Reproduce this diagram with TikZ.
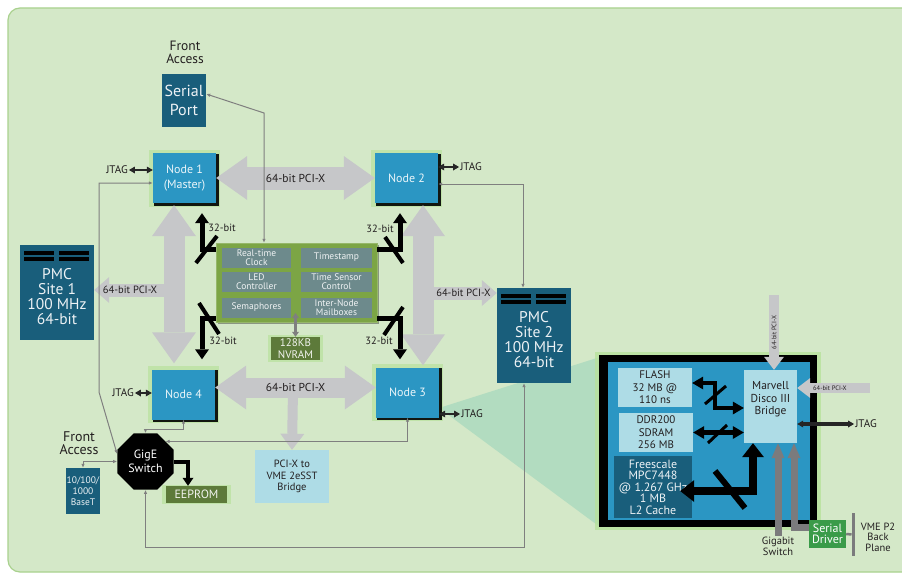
\documentclass[tikz,border=0pt]{standalone}
\usepackage{fontspec}
\setmainfont{PT Sans}
\usetikzlibrary{arrows.meta,shapes.geometric,shadows}

\definecolor{bggreen}{HTML}{D4E8C8}
\definecolor{bgedge}{HTML}{A9D18E}
\definecolor{nodeblue}{HTML}{2B96C3}
\definecolor{pmcteal}{HTML}{195E7B}
\definecolor{pcigray}{HTML}{C6C7C9}
\definecolor{wiregray}{HTML}{7F7F7F}
\definecolor{blkgreen}{HTML}{7CA545}
\definecolor{regslate}{HTML}{6D8A8C}
\definecolor{nvolive}{HTML}{5D7A3A}
\definecolor{bridgeblue}{HTML}{AEDCE6}
\definecolor{drvgreen}{HTML}{3A9B49}
\definecolor{zoommint}{HTML}{B2DCC0}
\definecolor{glowgreen}{HTML}{B8E29C}
\definecolor{inkgray}{HTML}{231F20}
\definecolor{upgray}{HTML}{7B7B7D}

\newcommand{\fsz}[2]{\fontsize{#1}{#2}\selectfont}

\tikzset{
  glow/.style={general shadow={fill=glowgreen, shadow scale=1.14, opacity=.7}},
  glowshadow/.style={glow, general shadow={fill=black, opacity=.9, shadow scale=1.04, shadow xshift=1.8pt, shadow yshift=-1.8pt}},
  nodebox/.style={fill=nodeblue, text=white!90!nodeblue, minimum width=63pt, minimum height=50pt,
                  inner sep=0pt, align=center, font=\fsz{12}{15}, glowshadow},
  tealbox/.style={fill=pmcteal, text=white!92!pmcteal, inner sep=0pt, align=center},
  regbox/.style={fill=regslate, text=white!90!regslate, minimum height=20pt, inner sep=0pt,
                 align=center, font=\fsz{9.5}{9}},
  olivebox/.style={fill=nvolive, text=white!92!nvolive, inner sep=0pt, align=center, glow},
  lightbox/.style={fill=bridgeblue, text=inkgray, inner sep=0pt, align=center},
  lbl/.style={text=inkgray, inner sep=1pt, align=center},
  bigpci/.style={draw=pcigray, line width=#1,
    {Triangle[length=31pt,width=44pt,line width=0pt]}-{Triangle[length=31pt,width=44pt,line width=0pt]}},
  smallpci/.style={draw=pcigray, line width=13pt, -{Triangle[length=15pt,width=26pt,line width=0pt]}},
  bus/.style={draw=black, line width=5pt, line join=miter, -{Triangle[length=10pt,width=14pt,line width=0pt]}},
  busslash/.style={draw=black, line width=4pt},
  jtagline/.style={draw=black!85, line width=2.2pt,
    {Triangle[length=6pt,width=7pt,line width=0pt]}-{Triangle[length=6pt,width=7pt,line width=0pt]}},
  wire/.style={draw=wiregray, line width=1pt, {Latex[length=4pt,width=3.5pt]}-{Latex[length=4pt,width=3.5pt]}},
  ibus/.style={draw=black, line width=4.5pt, line join=miter,
    {Triangle[length=11pt,width=13pt,line width=0pt]}-{Triangle[length=11pt,width=13pt,line width=0pt]}},
  cpubus/.style={draw=black, line width=8pt, line join=miter,
    {Triangle[length=14pt,width=22pt,line width=0pt]}-{Triangle[length=14pt,width=22pt,line width=0pt]}},
  uparrow/.style={draw=upgray, line width=7pt, line join=miter, -{Triangle[length=15pt,width=13pt,line width=0pt]}},
}

\begin{document}
\begin{tikzpicture}[x=1pt,y=-1pt]
\useasboundingbox (0,0) rectangle (902,575);
\fill[white] (0,0) rectangle (902,575);
\draw[bgedge, fill=bggreen, line width=1.2pt, rounded corners=12pt] (8,8) rectangle (918,572);
% zoom wedge towards the inset
\fill[zoommint] (439,408) -- (600,357) -- (600,527) -- cycle;

% main board
\node[lbl, font=\fsz{13.5}{13}] (fa1) at (185,52) {Front\\Access};
\node[tealbox, minimum width=44pt, minimum height=53pt, font=\fsz{16}{19}] (sp) at (184,100.5) {Serial\\Port};
\node[nodebox] (n1) at (184.5,178) {Node 1\\(Master)};
\node[nodebox] (n2) at (406.5,178) {Node 2};
\node[nodebox] (n4) at (183.5,394.5) {Node 4};
\node[nodebox] (n3) at (407.5,392.5) {Node 3};

\node[fill=blkgreen, draw=blkgreen!80!white, minimum width=161pt, minimum height=79pt, inner sep=0pt,
      general shadow={fill=black, opacity=.35, shadow xshift=2pt, shadow yshift=-2pt}] (blk) at (296.5,282.5) {};
\node[regbox, minimum width=69pt] (rtc) at (256.5,257.5) {Real-time\\Clock};
\node[regbox, minimum width=71pt] (tstamp) at (336.5,257.5) {Timestamp};
\node[regbox, minimum width=69pt] (led) at (256.5,282) {LED\\Controller};
\node[regbox, minimum width=71pt] (tsc) at (336.5,282) {Time Sensor\\Control};
\node[regbox, minimum width=69pt] (sema) at (256.5,307.5) {Semaphores};
\node[regbox, minimum width=71pt] (mbox) at (336.5,307.5) {Inter-Node\\Mailboxes};
\node[olivebox, minimum width=49pt, minimum height=23pt, font=\fsz{11}{11.5}] (nv) at (295.5,348.5) {128KB\\NVRAM};

\node[tealbox, minimum width=74pt, minimum height=95pt] (pmc1) at (57,292.5) {};
\node[text=white!92!pmcteal, align=center, font=\fsz{15.5}{15}] (pmc1txt) at (57,297) {PMC\\Site 1\\100 MHz\\64-bit};
\node[tealbox, minimum width=74pt, minimum height=95pt] (pmc2) at (534,335.5) {};
\node[text=white!92!pmcteal, align=center, font=\fsz{15.5}{15}] (pmc2txt) at (534,340) {PMC\\Site 2\\100 MHz\\64-bit};
\foreach \dy in {6,12.5} {
  \fill[black] ([shift={(4.3,\dy)}]pmc1.north west) rectangle +(29.5,3.7);
  \fill[black] ([shift={(39.3,\dy)}]pmc1.north west) rectangle +(29.5,3.7);
  \fill[black] ([shift={(4.3,\dy)}]pmc2.north west) rectangle +(29.5,3.7);
  \fill[black] ([shift={(39.3,\dy)}]pmc2.north west) rectangle +(29.5,3.7);
}

\node[lightbox, minimum width=74pt, minimum height=53pt, font=\fsz{10.5}{11.5}] (vme) at (292,476.5) {PCI-X to\\VME 2eSST\\Bridge};
\node[regular polygon, regular polygon sides=8, fill=black, minimum size=61pt, inner sep=0pt,
      text=white, align=center, font=\fsz{12}{14}] (gige) at (145.5,461.5) {GigE\\Switch};
\node[olivebox, minimum width=61pt, minimum height=17pt, font=\fsz{12}{12}] (eep) at (196.5,494.5) {EEPROM};
\node[tealbox, minimum width=34pt, minimum height=46pt, font=\fsz{9.5}{11}] (base) at (83,491) {10/100/\\1000\\BaseT};
\node[lbl, font=\fsz{14}{13.5}] (fa2) at (79,443) {Front\\Access};

\node[lbl, font=\fsz{11}{12}] (j1) at (117,170) {JTAG};
\node[lbl, font=\fsz{11}{12}] (j2) at (471,167) {JTAG};
\node[lbl, font=\fsz{11}{12}] (j4) at (123,393) {JTAG};
\node[lbl, font=\fsz{11}{12}] (j3) at (472,414) {JTAG};

% inset: processor node
\node[fill=black, minimum width=218pt, minimum height=172pt, inner sep=0pt,
      general shadow={fill=glowgreen, shadow scale=1.04, opacity=.8}] (inset) at (708,441) {};
\node[fill=nodeblue, minimum width=202pt, minimum height=158pt, inner sep=0pt] (insetin) at (709,441) {};
\node[lightbox, minimum width=74pt, minimum height=39pt, font=\fsz{11}{12.5}] (flash) at (655,387.5) {FLASH\\32 MB @\\110 ns};
\node[lightbox, minimum width=74pt, minimum height=39pt, font=\fsz{11}{12.5}] (ddr) at (656,432.5) {DDR200\\SDRAM\\256 MB};
\node[tealbox, minimum width=78pt, minimum height=62pt, font=\fsz{12}{11.5}] (cpu) at (653,487) {Freescale\\MPC7448\\@ 1.267 GHz\\1 MB\\L2 Cache};
\node[lightbox, minimum width=53pt, minimum height=73pt] (mvl) at (770.5,406.5) {};
\node[lbl, font=\fsz{11.5}{12.5}] (mvltxt) at (770.5,399.5) {Marvell\\Disco III\\Bridge};
\node[fill=drvgreen, text=white, minimum width=37pt, minimum height=28pt, inner sep=0pt, align=center,
      font=\fsz{12}{11}] (sdrv) at (827.5,534) {Serial\\Driver};
\node[fill=upgray, minimum width=3.5pt, minimum height=43pt, inner sep=0pt] (bp) at (853.5,534.5) {};
\node[lbl, font=\fsz{10.5}{10.5}] (bptxt) at (878,537) {VME P2\\Back\\Plane};
\node[lbl, font=\fsz{10.5}{11}] (gsw) at (778,546) {Gigabit\\Switch};
\node[lbl, font=\fsz{11}{12}] (jm) at (866,424) {JTAG};
\coordinate (pcitop) at (774,295);
\coordinate (pciright) at (870,388);

% PCI-X buses
\coordinate (vmebr) at (293,390);
\draw[draw=pcigray, line width=10pt, -{Triangle[length=16pt,width=24pt,line width=0pt]}] (vmebr) -- (vme.north);
\coordinate (lbr) at (166,290);
\draw[smallpci] (lbr) -- (lbr -| pmc1.east) node[midway, text=inkgray, font=\fsz{10.5}{11}] (pcil1) {64-bit PCI-X};
\coordinate (rbr) at (430,293);
\draw[smallpci] (rbr) -- (rbr -| pmc2.west) node[midway, text=inkgray, font=\fsz{10.5}{11}] (pcil2) {64-bit PCI-X};
\draw[bigpci=23pt] (n1.east) -- (n2.west) node[midway, text=inkgray, font=\fsz{11.5}{12}] (pcit) {64-bit PCI-X};
\draw[bigpci=20pt] ([yshift=7pt]n4.east) -- ([yshift=5pt]n3.west) node[midway, text=inkgray, font=\fsz{11.5}{12}] (pcib) {64-bit PCI-X};
\draw[bigpci=21pt] ([xshift=-10.5pt,yshift=-2pt]n1.south) -- ([xshift=-9.5pt,yshift=6pt]n4.north);
\draw[bigpci=21pt] ([xshift=16.5pt,yshift=-2pt]n2.south) -- ([xshift=15.5pt,yshift=2pt]n3.north);

% 32-bit local buses
\draw[bus] ([yshift=-7pt]blk.north west) -| ([xshift=17.5pt,yshift=-10pt]n1.south);
\draw[bus] ([yshift=-7pt]blk.north east) -| ([xshift=-6.5pt,yshift=-10pt]n2.south);
\draw[bus] ([yshift=4pt]blk.south west) -| ([xshift=18.5pt,yshift=10pt]n4.north);
\draw[bus] ([yshift=4pt]blk.south east) -| ([xshift=-7.5pt,yshift=8pt]n3.north);
\draw[busslash] (196,263) -- (217,236);
\draw[busslash] (385,237) -- (403,263);
\draw[busslash] (199,303) -- (219,334);
\draw[busslash] (384,335) -- (403,307);
\node[lbl, font=\fsz{10.5}{11}] (b1) at (222,228) {32-bit};
\node[lbl, font=\fsz{10.5}{11}] (b2) at (380,229) {32-bit};
\node[lbl, font=\fsz{10.5}{11}] (b3) at (223,341) {32-bit};
\node[lbl, font=\fsz{10.5}{11}] (b4) at (379,341) {32-bit};
\coordinate (nvtop) at (295.5,313);
\draw[draw=wiregray, line width=2.5pt,
  {Triangle[length=5pt,width=7pt,line width=0pt]}-{Triangle[length=5pt,width=7pt,line width=0pt]}] (nvtop) -- (nv.north);
\draw[draw=black, line width=4pt, line join=miter, -{Triangle[length=8pt,width=11pt,line width=0pt]}]
  (gige.east) -| ([xshift=-8.5pt]eep.north);

% JTAG
\draw[jtagline] (j1.east) -- (j1.east -| n1.west);
\draw[jtagline] (j2.west) -- (j2.west -| n2.east);
\draw[jtagline] (j4.east) -- (j4.east -| n4.west);
\draw[jtagline] (j3.west) -- (j3.west -| n3.east);

% management wiring
\coordinate (spbend) at (264,113);
\draw[wire] ([yshift=6.5pt]sp.east) -- (spbend) -- (spbend |- blk.north);
\draw[wire] ([yshift=-5pt]n1.west) -| (99,392) -- ([yshift=7.5pt]gige.west);
\draw[wire] (gige.west) -| (base.north);
\draw[wire] (n4.south) -- ++(0,9.5) -| (gige.north);
\draw[wire] (n3.south) |- (gige.north east);
\draw[wire] (gige.south) -- ++(0,58) -| ([xshift=-10pt]pmc2.south);
\draw[wire] ([yshift=-6pt]n2.east) -| ([xshift=-11pt]pmc2.north);

% inset wiring
\draw[ibus] ([yshift=4.5pt]flash.east) -- ++(23,0) |- ([yshift=-1.5pt]mvl.west);
\draw[ibus] (ddr.east) -- (ddr.east -| mvl.west);
\draw[cpubus] ([xshift=-12pt,yshift=-4pt]cpu.east) -| ([xshift=-17.5pt]mvl.south);
\draw[busslash, line width=3pt] (705,404) -- (726,386);
\draw[busslash, line width=3pt] (708,443) -- (727,425);
\draw[busslash, line width=6pt] (715,471) -- (745,508);
\draw[jtagline, line width=3.5pt] ([yshift=-17.5pt]mvl.east) -- (jm.west);
\draw[draw=pcigray, line width=10pt, -{Triangle[length=13pt,width=20pt,line width=0pt]}] (pcitop) -- (pcitop |- mvl.north)
  node[midway, rotate=90, text=inkgray, font=\fsz{6.5}{7}] (pcil3) {64-bit PCI-X};
\draw[draw=pcigray, line width=10pt, -{Triangle[length=13pt,width=20pt,line width=0pt]}] (pciright) -- (pciright -| mvl.east)
  node[pos=.55, text=inkgray, font=\fsz{6.5}{7}] (pcil4) {64-bit PCI-X};
\draw[uparrow] (gsw.north) -- (gsw.north |- mvl.south);
\draw[uparrow] ([yshift=7pt]sdrv.west) -| ([xshift=23.5pt]mvl.south);
\draw[draw=upgray, line width=2.5pt] (sdrv.east) -- (bp.west);
\end{tikzpicture}
\end{document}
